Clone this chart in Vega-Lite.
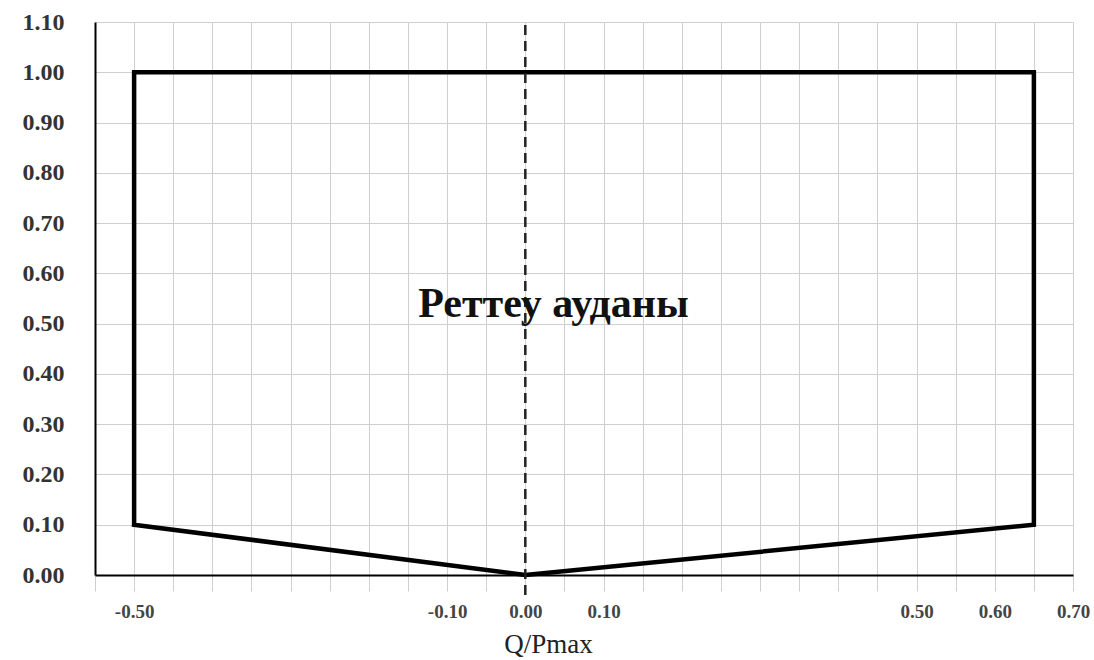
{
  "$schema": "https://vega.github.io/schema/vega-lite/v6.json",
  "width": 978,
  "height": 553,
  "autosize": {"type": "none"},
  "padding": {"left": 95, "top": 22, "right": 21, "bottom": 85},
  "background": "white",
  "config": {"view": {"stroke": null}},
  "datasets": {
    "region": [
      {"order": 1, "q": -0.5, "p": 0.1},
      {"order": 2, "q": -0.5, "p": 1.0},
      {"order": 3, "q": 0.65, "p": 1.0},
      {"order": 4, "q": 0.65, "p": 0.1},
      {"order": 5, "q": 0.0, "p": 0.0},
      {"order": 6, "q": -0.5, "p": 0.1}
    ],
    "centre": [{"q": 0, "p": -0.04, "p2": 1.1}],
    "label": [{"q": 0.036, "p": 0.54, "text": "Реттеу ауданы"}]
  },
  "encoding": {
    "x": {
      "field": "q", "type": "quantitative",
      "scale": {"domain": [-0.55, 0.7], "nice": false, "zero": false},
      "axis": {
        "title": "Q/Pmax",
        "titleFont": "Liberation Serif", "titleFontSize": 27, "titleFontWeight": "normal", "titleColor": "#222", "titlePadding": 10,
        "titleX": 453, "titleAlign": "center",
        "values": [-0.55, -0.5, -0.45, -0.4, -0.35, -0.3, -0.25, -0.2, -0.15, -0.1, -0.05, 0, 0.05, 0.1, 0.15, 0.2, 0.25, 0.3, 0.35, 0.4, 0.45, 0.5, 0.55, 0.6, 0.65, 0.7],
        "labelExpr": "(abs(datum.value+0.5)<0.001 || abs(datum.value+0.1)<0.001 || abs(datum.value)<0.001 || abs(datum.value-0.1)<0.001 || abs(datum.value-0.5)<0.001 || abs(datum.value-0.6)<0.001 || abs(datum.value-0.7)<0.001) ? (datum.value < -0.001 ? '-' : '') + format(abs(datum.value), '.2f') : ''",
        "labelFont": "Liberation Serif", "labelFontSize": 19, "labelFontWeight": "bold", "labelColor": "#444", "labelPadding": 11,
        "labelOverlap": false, "labelFlush": false,
        "grid": true, "gridColor": "#cfcfcf", "gridWidth": 1,
        "ticks": true, "tickSize": 16, "tickColor": "#cfcfcf", "tickWidth": 1,
        "domain": true, "domainColor": "black", "domainWidth": 2
      }
    },
    "y": {
      "field": "p", "type": "quantitative",
      "scale": {"domain": [0, 1.1], "nice": false},
      "axis": {
        "title": null,
        "values": [0, 0.1, 0.2, 0.3, 0.4, 0.5, 0.6, 0.7, 0.8, 0.9, 1.0, 1.1],
        "format": ".2f",
        "labelFont": "Liberation Serif", "labelFontSize": 24, "labelFontWeight": "bold", "labelColor": "#333", "labelPadding": 31,
        "labelFlush": false,
        "grid": true, "gridColor": "#cfcfcf", "gridWidth": 1,
        "ticks": false,
        "domain": true, "domainColor": "black", "domainWidth": 2
      }
    }
  },
  "layer": [
    {
      "data": {"name": "region"},
      "mark": {"type": "line", "color": "black", "strokeWidth": 4.5, "strokeJoin": "miter", "strokeCap": "square"},
      "encoding": {
        "order": {"field": "order", "type": "quantitative"}
      }
    },
    {
      "data": {"name": "centre"},
      "mark": {"type": "rule", "color": "#222", "strokeWidth": 2.5, "strokeDash": [10, 6]},
      "encoding": {
        "y2": {"field": "p2"}
      }
    },
    {
      "data": {"name": "label"},
      "mark": {"type": "text", "font": "Liberation Serif", "fontSize": 42, "fontWeight": "bold", "color": "#111", "align": "center", "baseline": "middle"},
      "encoding": {
        "text": {"field": "text"}
      }
    }
  ]
}
